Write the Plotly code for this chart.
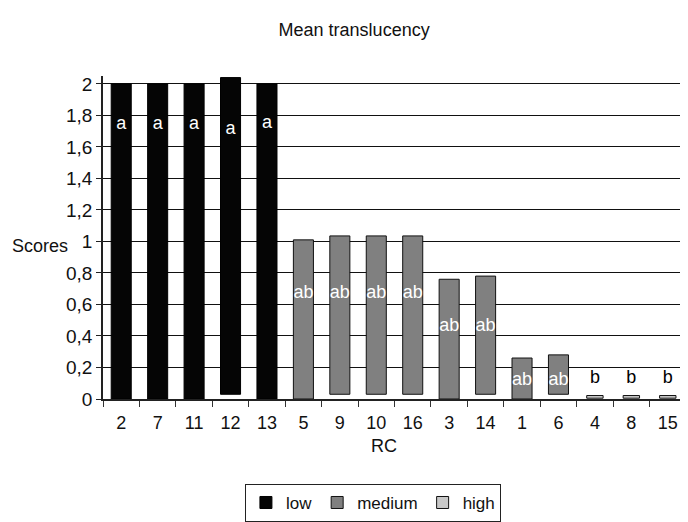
import plotly.graph_objects as go

categories = ["2", "7", "11", "12", "13", "5", "9", "10", "16", "3", "14", "1", "6", "4", "8", "15"]

low_cats = ["2", "7", "11", "12", "13"]
low_top = [2.0, 2.0, 2.0, 2.04, 2.0]
low_base = [0.0, 0.0, 0.0, 0.03, 0.0]

med_cats = ["5", "9", "10", "16", "3", "14", "1", "6"]
med_top = [1.01, 1.035, 1.035, 1.035, 0.76, 0.78, 0.26, 0.28]
med_base = [0.0, 0.03, 0.03, 0.03, 0.0, 0.03, 0.0, 0.03]

high_cats = ["4", "8", "15"]
high_top = [0.022, 0.022, 0.022]
high_base = [0.005, 0.005, 0.005]

lab_cats = ["2", "7", "11", "12", "13", "5", "9", "10", "16", "3", "14", "1", "6"]
lab_text = ["a", "a", "a", "a", "a", "ab", "ab", "ab", "ab", "ab", "ab", "ab", "ab"]
lab_y = [1.74, 1.74, 1.74, 1.71, 1.75, 0.67, 0.67, 0.67, 0.67, 0.46, 0.46, 0.12, 0.12]

b_cats = ["4", "8", "15"]
b_text = ["b", "b", "b"]
b_y = [0.13, 0.13, 0.13]

FONT = "Liberation Sans, Arial, sans-serif"

fig = go.Figure()
fig.add_trace(go.Bar(
    x=low_cats, y=[t - b for t, b in zip(low_top, low_base)], base=low_base,
    name="low", marker=dict(color="#050505", line=dict(color="#000000", width=1)),
    width=0.55,
))
fig.add_trace(go.Bar(
    x=med_cats, y=[t - b for t, b in zip(med_top, med_base)], base=med_base,
    name="medium", marker=dict(color="#808080", line=dict(color="#111111", width=1)),
    width=0.55,
))
fig.add_trace(go.Bar(
    x=high_cats, y=[t - b for t, b in zip(high_top, high_base)], base=high_base,
    name="high", marker=dict(color="#c8c8c8", line=dict(color="#111111", width=1)),
    width=0.45,
))
fig.add_trace(go.Scatter(
    x=lab_cats, y=lab_y, text=lab_text, mode="text", showlegend=False,
    textfont=dict(color="white", size=18, family=FONT), hoverinfo="skip",
))
fig.add_trace(go.Scatter(
    x=b_cats, y=b_y, text=b_text, mode="text", showlegend=False,
    textfont=dict(color="black", size=18, family=FONT), hoverinfo="skip",
))

fig.add_shape(type="line", xref="paper", yref="y", x0=1, x1=1, y0=0, y1=2,
              line=dict(color="#888888", width=1.5))

fig.update_layout(
    width=680, height=514,
    margin=dict(l=95, r=2, t=68, b=123, autoexpand=False),
    paper_bgcolor="white", plot_bgcolor="white",
    barmode="overlay",
    separators=", ",
    font=dict(family=FONT, size=17, color="#111111"),
    title=dict(text="Mean translucency", x=0.509, xanchor="center", y=0.957, yanchor="middle",
               font=dict(family=FONT, size=18, color="#111111")),
    showlegend=True,
    legend=dict(orientation="h", x=0.463, xanchor="center", y=-0.263, yanchor="top",
                bordercolor="#222222", borderwidth=1, font=dict(size=17, family=FONT),
                itemwidth=30, tracegroupgap=0),
)
fig.update_xaxes(
    type="category", categoryorder="array", categoryarray=categories,
    range=[-0.5, 15.5],
    showline=True, linecolor="#222222", linewidth=1.5, automargin=False,
    ticks="outside", tickson="boundaries", ticklen=6, tickcolor="#333333",
    ticklabelstandoff=7,
    tickfont=dict(size=18, family=FONT), showgrid=False,
)
fig.update_yaxes(
    range=[0, 2.05], tickvals=[0, 0.2, 0.4, 0.6, 0.8, 1, 1.2, 1.4, 1.6, 1.8, 2],
    tickformat=".1~f", automargin=False,
    showline=True, linecolor="#222222", linewidth=1.5,
    ticks="outside", ticklen=5, tickcolor="#222222",
    showgrid=True, gridcolor="#111111", gridwidth=1,
    zeroline=False, tickfont=dict(size=19, family=FONT),
)
fig.add_annotation(text="Scores", xref="paper", yref="y", x=-0.057, y=0.97, xanchor="right",
                   showarrow=False, font=dict(size=18, family=FONT))
fig.add_annotation(text="RC", xref="paper", yref="paper", x=0.482, y=-0.145,
                   xanchor="center", yanchor="middle",
                   showarrow=False, font=dict(size=18, family=FONT))

fig.write_html("out.html")
